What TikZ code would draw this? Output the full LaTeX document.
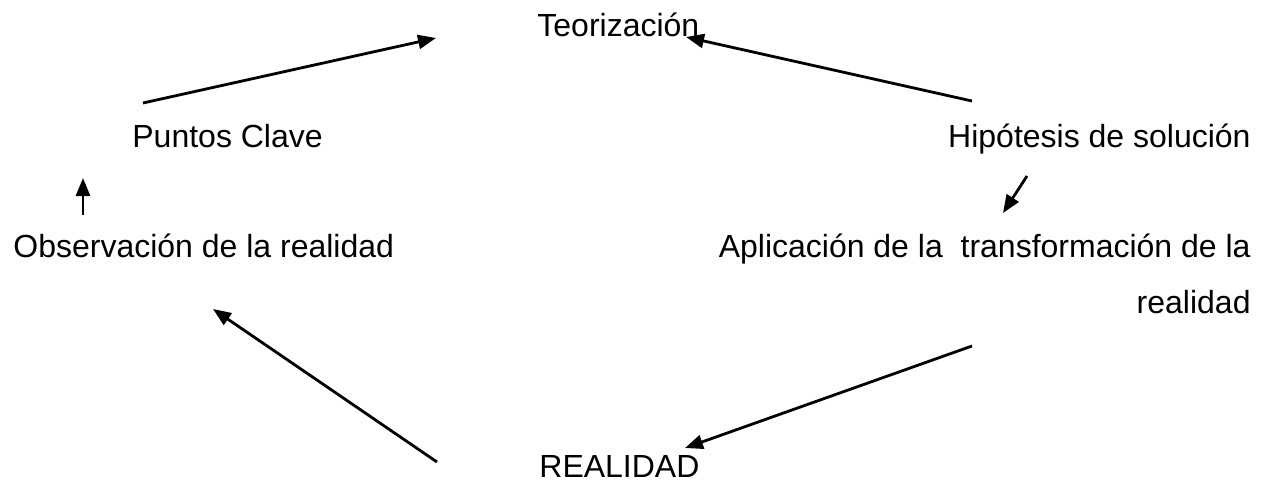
\documentclass[tikz,border=0pt]{standalone}
\usepackage{fontspec}
\setmainfont{Liberation Sans}
\usetikzlibrary{arrows.meta}

\begin{document}
\begin{tikzpicture}[->,>={Triangle[length=18pt,width=14pt]},x=1pt,y=-1pt,
 line width=2.8pt,stage node/.style={inner sep=0pt,font=\fontsize{32}{56}\selectfont}]
\useasboundingbox (0,0) rectangle (1270,483);
\node[stage node,anchor=base west](teo) at (536,36){Teorización};
\node[stage node,anchor=base west](puntos) at (131,147){Puntos Clave};
\node[stage node,anchor=base east](hipo) at (1252,147){Hipótesis de solución};
\node[stage node,anchor=base west](obs) at (12,257){Observación de la realidad};
% base of a two-line node is its last line
\node[stage node,anchor=base east,align=right](apli) at (1252,313)
  {Aplicación de la\ \ transformación de la\\realidad};
\node[stage node,anchor=base west](real) at (538,477){REALIDAD};

% free ends of the arrows
\coordinate (pc-a) at (143,103);  \coordinate (teo-a) at (436,38);
\coordinate (hip-a) at (972,101); \coordinate (teo-b) at (686,37);
\coordinate (hip-b) at (1027,176);\coordinate (apl-a) at (1003,213);
\coordinate (obs-a) at (83,215);  \coordinate (pc-b) at (83,178);
\coordinate (apl-b) at (972,346); \coordinate (real-a) at (685,448);
\coordinate (real-b) at (437,462);\coordinate (obs-b) at (213,309);

\foreach \s/\t in {pc-a/teo-a, hip-a/teo-b, hip-b/apl-a,
                   obs-a/pc-b, apl-b/real-a, real-b/obs-b}{
  \draw (\s) -- (\t);}
\end{tikzpicture}
\end{document}
